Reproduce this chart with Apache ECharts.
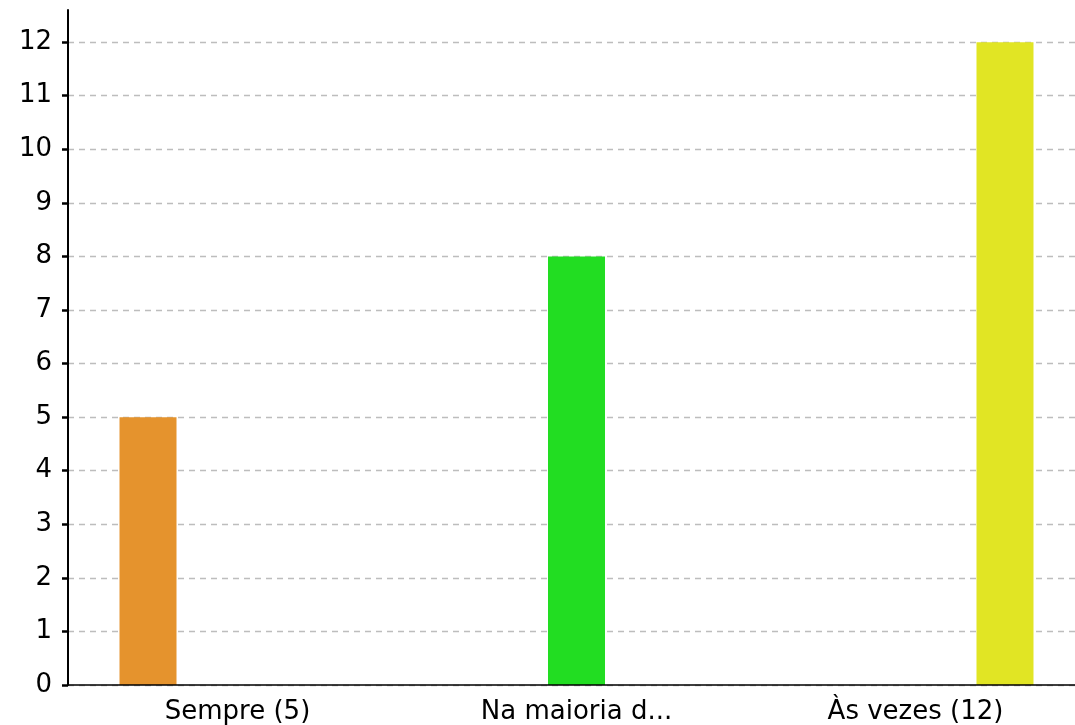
<!DOCTYPE html>
<html>
<head>
<meta charset="utf-8">
<script src="https://cdn.jsdelivr.net/npm/echarts@6/dist/echarts.min.js"></script>
<style>
html,body{margin:0;padding:0;background:#fff;overflow:hidden;width:1075px;height:725px;}
#chart{width:1085px;height:725px;}
</style>
</head>
<body>
<div id="chart"></div>
<script>
var categories = ['Sempre (5)', 'Na maioria d...', 'Às vezes (12)'];
var values = [5, 8, 12];
var colors = ['#e5932d', '#22dd22', '#e1e524'];
var yTicks = [0,1,2,3,4,5,6,7,8,9,10,11,12];

var series = values.map(function (v, i) {
  var d = categories.map(function (c, j) { return j === i ? v : '-'; });
  return {
    type: 'bar',
    name: categories[i],
    data: d,
    barWidth: 57,
    barGap: '57%',
    itemStyle: { color: colors[i] },
    z: 1
  };
});

var chart = echarts.init(document.getElementById('chart'), null, {renderer: 'canvas'});
chart.setOption({
  animation: false,
  grid: { left: 68, top: 10, bottom: 40, right: 0, containLabel: false },
  xAxis: {
    type: 'category',
    data: categories,
    axisLine: { show: true, lineStyle: { color: '#000', width: 1.5 } },
    axisTick: { show: false },
    splitLine: { show: false },
    axisLabel: { color: '#000', fontSize: 26, fontFamily: '"DejaVu Sans"', margin: 14, interval: 0 },
    z: 5
  },
  yAxis: {
    type: 'value',
    min: 0,
    max: 12.6,
    interval: 1,
    axisLine: { show: true, lineStyle: { color: '#000', width: 2 } },
    axisTick: { show: true, length: 6, lineStyle: { color: '#000', width: 2.5 }, customValues: yTicks },
    axisLabel: { color: '#000', fontSize: 26, fontFamily: '"DejaVu Sans"', margin: 16, customValues: yTicks },
    splitLine: { show: true, lineStyle: { color: '#bdbdbd', width: 1.4, type: [6, 5] } }
  },
  series: series
});
</script>
</body>
</html>
